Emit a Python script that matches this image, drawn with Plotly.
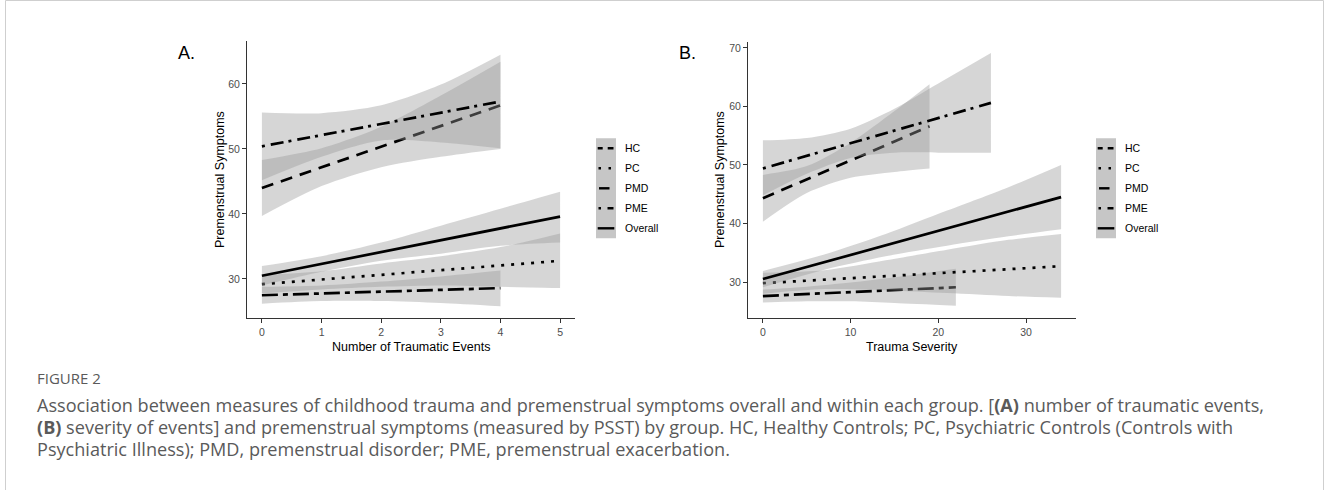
import plotly.graph_objects as go

W, H = 1330, 490

# ---------------- Panel A: Number of Traumatic Events ----------------
a_hc_x = [0, 1, 2, 3, 4]
a_hc_fit = [44.0, 47.2, 50.3, 53.5, 56.7]
a_hc_lo = [39.7, 44.3, 47.2, 48.8, 50.0]
a_hc_hi = [48.3, 50.1, 53.4, 58.2, 63.4]

a_pmd_x = [0, 1, 2, 3, 4]
a_pmd_fit = [27.5, 27.8, 28.05, 28.3, 28.6]
a_pmd_lo = [26.2, 26.6, 26.6, 26.3, 25.8]
a_pmd_hi = [28.8, 29.0, 29.6, 30.4, 31.3]

a_pc_x = [0, 1, 2, 3, 4, 5]
a_pc_fit = [29.2, 29.9, 30.6, 31.4, 32.1, 32.8]
a_pc_lo = [27.8, 28.4, 28.8, 29.0, 28.8, 28.6]
a_pc_hi = [30.6, 31.2, 32.4, 33.5, 34.9, 37.0]

a_pme_x = [0, 1, 2, 3, 4]
a_pme_fit = [50.4, 52.1, 53.9, 55.6, 57.3]
a_pme_lo = [45.2, 48.8, 51.3, 51.0, 50.1]
a_pme_hi = [55.6, 55.5, 56.7, 59.9, 64.5]

a_all_x = [0, 1, 2, 3, 4, 5]
a_all_fit = [30.5, 32.3, 34.1, 36.0, 37.8, 39.6]
a_all_lo = [29.0, 31.1, 32.8, 33.9, 35.1, 35.6]
a_all_hi = [32.0, 33.5, 35.6, 38.2, 40.8, 43.4]

# ---------------- Panel B: Trauma Severity ----------------
b_hc_x = [0, 5, 10, 15, 19]
b_hc_fit = [44.3, 47.5, 50.8, 54.0, 56.6]
b_hc_lo = [40.3, 45.2, 47.8, 48.8, 49.4]
b_hc_hi = [48.3, 49.8, 53.8, 59.2, 63.8]

b_pmd_x = [0, 5, 10, 15, 22]
b_pmd_fit = [27.6, 27.95, 28.3, 28.6, 29.1]
b_pmd_lo = [26.5, 26.7, 26.7, 26.4, 25.95]
b_pmd_hi = [28.7, 29.2, 29.9, 30.8, 32.25]

b_pc_x = [0, 7, 14, 21, 28, 34]
b_pc_fit = [29.8, 30.4, 31.0, 31.6, 32.2, 32.7]
b_pc_lo = [28.0, 28.8, 28.6, 28.1, 27.6, 27.3]
b_pc_hi = [31.6, 32.0, 33.7, 35.5, 37.2, 38.2]

b_pme_x = [0, 5, 10, 15, 20, 26]
b_pme_fit = [49.4, 51.55, 53.7, 55.85, 58.0, 60.6]
b_pme_lo = [44.8, 48.5, 51.2, 52.1, 52.1, 52.1]
b_pme_hi = [54.2, 54.6, 56.2, 59.6, 63.9, 69.1]

b_all_x = [0, 7, 14, 21, 28, 34]
b_all_fit = [30.5, 33.4, 36.3, 39.2, 42.0, 44.5]
b_all_lo = [29.1, 32.1, 34.4, 36.2, 37.8, 39.0]
b_all_hi = [31.9, 34.7, 38.2, 42.2, 46.2, 50.0]

groups = ["HC", "PC", "PMD", "PME", "Overall"]
draw_order = ["HC", "PMD", "PC", "PME", "Overall"]

panel_a = {
    "HC": (a_hc_x, a_hc_fit, a_hc_lo, a_hc_hi),
    "PMD": (a_pmd_x, a_pmd_fit, a_pmd_lo, a_pmd_hi),
    "PC": (a_pc_x, a_pc_fit, a_pc_lo, a_pc_hi),
    "PME": (a_pme_x, a_pme_fit, a_pme_lo, a_pme_hi),
    "Overall": (a_all_x, a_all_fit, a_all_lo, a_all_hi),
}
panel_b = {
    "HC": (b_hc_x, b_hc_fit, b_hc_lo, b_hc_hi),
    "PMD": (b_pmd_x, b_pmd_fit, b_pmd_lo, b_pmd_hi),
    "PC": (b_pc_x, b_pc_fit, b_pc_lo, b_pc_hi),
    "PME": (b_pme_x, b_pme_fit, b_pme_lo, b_pme_hi),
    "Overall": (b_all_x, b_all_fit, b_all_lo, b_all_hi),
}

a_xticks = [0, 1, 2, 3, 4, 5]
a_yticks = [30, 40, 50, 60]
b_xticks = [0, 10, 20, 30]
b_yticks = [30, 40, 50, 60, 70]

a_xtitle = "Number of Traumatic Events"
b_xtitle = "Trauma Severity"
ytitle = "Premenstrual Symptoms"

caption_head = "FIGURE 2"
caption_lines = [
    "Association between measures of childhood trauma and premenstrual symptoms overall and within each group. [<b>(A)</b> number of traumatic events,",
    "<b>(B)</b> severity of events] and premenstrual symptoms (measured by PSST) by group. HC, Healthy Controls; PC, Psychiatric Controls (Controls with",
    "Psychiatric Illness); PMD, premenstrual disorder; PME, premenstrual exacerbation.",
]

# ---------------- styles ----------------
dash = {
    "HC": "12px,8px",
    "PC": "3px,7px",
    "PMD": "16px,5px,5px,5px",
    "PME": "3px,6px,13px,5px",
    "Overall": "solid",
}
band_fill = "rgba(153,153,153,0.4)"
LW = 2.7
FONT = "Liberation Sans, Arial, sans-serif"


def px(v):
    return v / W


def py(v):
    return 1 - v / H


fig = go.Figure()


def add_panel(data, xa, ya):
    for g in draw_order:
        x, fit, lo, hi = data[g]
        fig.add_trace(go.Scatter(x=x, y=lo, xaxis=xa, yaxis=ya, mode="lines",
                                 line=dict(width=0, shape="spline", smoothing=0.8),
                                 showlegend=False, hoverinfo="skip"))
        fig.add_trace(go.Scatter(x=x, y=hi, xaxis=xa, yaxis=ya, mode="lines",
                                 line=dict(width=0, shape="spline", smoothing=0.8),
                                 fill="tonexty", fillcolor=band_fill,
                                 showlegend=False, hoverinfo="skip"))
        fig.add_trace(go.Scatter(x=x, y=fit, xaxis=xa, yaxis=ya, mode="lines",
                                 line=dict(color="black", width=LW, dash=dash[g]),
                                 name=g, showlegend=False))


add_panel(panel_a, "x", "y")
add_panel(panel_b, "x2", "y2")

axis_common = dict(showline=True, linecolor="#333333", linewidth=1,
                   ticks="outside", ticklen=4, tickwidth=1, tickcolor="#333333",
                   showgrid=False, zeroline=False,
                   tickfont=dict(family=FONT, size=10.5, color="#4d4d4d"))

fig.update_layout(
    width=W, height=H,
    margin=dict(l=0, r=0, t=0, b=0),
    paper_bgcolor="white", plot_bgcolor="white",
    showlegend=False,
    xaxis=dict(domain=[px(247), px(575)], range=[-0.25, 5.25], tickvals=a_xticks,
               anchor="y", **axis_common),
    yaxis=dict(domain=[py(318), py(41)], range=[24.0, 66.6], tickvals=a_yticks,
               anchor="x", **axis_common),
    xaxis2=dict(domain=[px(748), px(1076)], range=[-1.7, 35.7], tickvals=b_xticks,
                anchor="y2", **axis_common),
    yaxis2=dict(domain=[py(318), py(42)], range=[23.85, 71.0], tickvals=b_yticks,
                anchor="x2", **axis_common),
)

shapes = []
annotations = []

# outer border
shapes.append(dict(type="rect", xref="paper", yref="paper",
                   x0=px(5.5), x1=px(1323.5), y0=py(500), y1=py(0.5),
                   line=dict(color="#cfcfcf", width=1), fillcolor="rgba(0,0,0,0)"))

# legends
key_dash = {
    "HC": ("5px,5px,6px,40px", 597.7, 613.5),
    "PC": ("2.5px,7.5px,2.5px,40px", 598.5, 614),
    "PMD": ("solid", 599, 609.5),
    "PME": ("2.5px,6.5px,6px,40px", 598.5, 614),
    "Overall": ("solid", 597.7, 614.3),
}
for off in (0, 500):
    shapes.append(dict(type="rect", xref="paper", yref="paper",
                       x0=px(596 + off), x1=px(616 + off), y0=py(238.3), y1=py(138.3),
                       line=dict(width=0), fillcolor="#c6c6c6", layer="above"))
    for i, g in enumerate(groups):
        yy = 148.3 + 20 * i
        d, x0, x1 = key_dash[g]
        shapes.append(dict(type="line", xref="paper", yref="paper",
                           x0=px(x0 + off), x1=px(x1 + off), y0=py(yy), y1=py(yy),
                           line=dict(color="black", width=2.4, dash=d), layer="above"))
        annotations.append(dict(xref="paper", yref="paper", x=px(622.5 + off), y=py(yy),
                                text=g, showarrow=False, xanchor="left", yanchor="middle",
                                font=dict(family=FONT, size=10.5, color="black")))

# axis titles
for cx in (220, 720):
    annotations.append(dict(xref="paper", yref="paper", x=px(cx), y=py(180), text=ytitle,
                            textangle=-90, showarrow=False, xanchor="center", yanchor="middle",
                            font=dict(family=FONT, size=12.5, color="black")))
annotations.append(dict(xref="paper", yref="paper", x=px(411), y=py(347), text=a_xtitle,
                        showarrow=False, xanchor="center", yanchor="middle",
                        font=dict(family=FONT, size=12.5, color="black")))
annotations.append(dict(xref="paper", yref="paper", x=px(912), y=py(347), text=b_xtitle,
                        showarrow=False, xanchor="center", yanchor="middle",
                        font=dict(family=FONT, size=12.5, color="black")))

# panel labels
annotations.append(dict(xref="paper", yref="paper", x=px(176), y=py(53), text="A.",
                        showarrow=False, xanchor="left", yanchor="middle",
                        font=dict(family=FONT, size=18, color="black")))
annotations.append(dict(xref="paper", yref="paper", x=px(677), y=py(53), text="B.",
                        showarrow=False, xanchor="left", yanchor="middle",
                        font=dict(family=FONT, size=18, color="black")))

# caption
CAP_FONT = "Open Sans, Lato, sans-serif"
annotations.append(dict(xref="paper", yref="paper", x=px(35), y=py(378), text=caption_head,
                        showarrow=False, xanchor="left", yanchor="middle",
                        font=dict(family=CAP_FONT, size=15, color="#5a5a5a")))
for i, line in enumerate(caption_lines):
    annotations.append(dict(xref="paper", yref="paper", x=px(35), y=py(405 + 22 * i), text=line,
                            showarrow=False, xanchor="left", yanchor="middle",
                            font=dict(family=CAP_FONT, size=18.1, color="#5a5a5a")))

fig.update_layout(shapes=shapes, annotations=annotations)
fig.write_html("out.html", config={"displayModeBar": False},
               post_script="document.body.style.margin='0px';")
